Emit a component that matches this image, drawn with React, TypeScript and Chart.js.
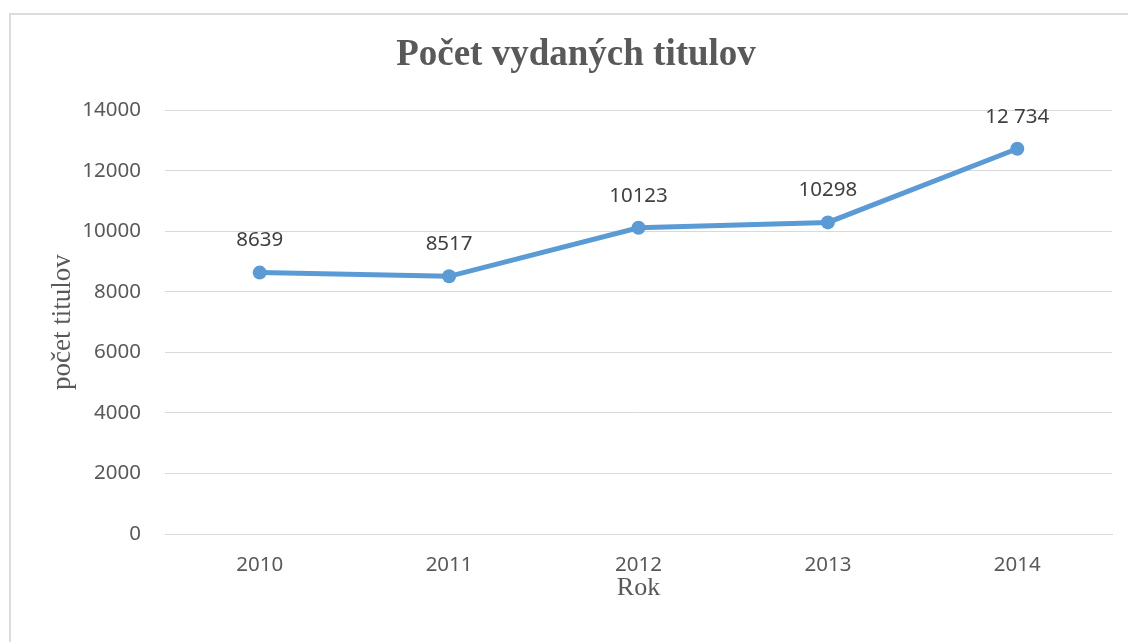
import React, { useEffect, useRef } from "react";
import { Chart, registerables } from "chart.js";

Chart.register(...registerables);

const categories = ["2010", "2011", "2012", "2013", "2014"];
const values = [8639, 8517, 10123, 10298, 12734];
const valueLabels = ["8639", "8517", "10123", "10298", "12 734"];
const yTicks = [0, 2000, 4000, 6000, 8000, 10000, 12000, 14000];

const titleText = "Počet vydaných titulov";
const yTitle = "počet titulov";
const xTitle = "Rok";

const dataLabelPlugin = {
  id: "dataLabels",
  afterDatasetsDraw(chart: any) {
    const ctx = chart.ctx;
    const meta = chart.getDatasetMeta(0);
    ctx.save();
    ctx.font = "20.5px 'Noto Sans'";
    ctx.fillStyle = "#404040";
    ctx.textAlign = "center";
    ctx.textBaseline = "middle";
    meta.data.forEach((pt: any, i: number) => {
      ctx.fillText(valueLabels[i], pt.x, pt.y - 32);
    });
    ctx.restore();
  },
};

export default function App() {
  const ref = useRef<HTMLCanvasElement | null>(null);

  useEffect(() => {
    document.body.style.margin = "0";
    if (!ref.current) return;
    const chart = new Chart(ref.current, {
      type: "line",
      data: {
        labels: categories,
        datasets: [
          {
            data: values,
            borderColor: "#5b9bd5",
            backgroundColor: "#5b9bd5",
            borderWidth: 5,
            pointRadius: 7,
            pointBackgroundColor: "#5b9bd5",
            pointBorderWidth: 0,
            tension: 0,
            fill: false,
          },
        ],
      },
      options: {
        animation: false,
        responsive: false,
        layout: { padding: { left: 40, right: 16, top: 0, bottom: 0 } },
        plugins: {
          legend: { display: false },
          tooltip: { enabled: false },
          title: {
            display: true,
            text: titleText,
            color: "#595959",
            font: { family: "'Liberation Serif'", size: 37, weight: "bold", lineHeight: 1.2 },
            padding: { top: 33, bottom: 33 },
          },
        },
        scales: {
          x: {
            offset: true,
            grid: { display: false, drawTicks: false },
            border: { display: true, color: "#d9d9d9", width: 1 },
            ticks: {
              color: "#595959",
              font: { family: "'Noto Sans'", size: 20.5 },
              padding: 19,
            },
            title: {
              display: true,
              text: xTitle,
              color: "#595959",
              font: { family: "'Liberation Serif'", size: 26, lineHeight: 1.2 },
              padding: { top: 0, bottom: 38 },
            },
            afterFit(scale: any) {
              scale.height = 108;
            },
          },
          y: {
            min: 0,
            max: 14000,
            afterBuildTicks(scale: any) {
              scale.ticks = yTicks.map((v) => ({ value: v }));
            },
            grid: { color: "#d9d9d9", lineWidth: 1, drawTicks: false },
            border: { display: false },
            ticks: {
              color: "#595959",
              font: { family: "'Noto Sans'", size: 20.5 },
              padding: 24,
              callback: (v: any) => String(v),
            },
            title: {
              display: true,
              text: yTitle,
              color: "#595959",
              font: { family: "'Liberation Serif'", size: 27, lineHeight: 1.2 },
              padding: { top: 7, bottom: 0 },
            },
            afterFit(scale: any) {
              scale.width = 125;
            },
          },
        },
      },
      plugins: [dataLabelPlugin],
    });
    return () => chart.destroy();
  }, []);

  return (
    <div style={{ position: "relative", width: 1128, height: 642, overflow: "hidden", background: "#fff" }}>
      <div
        style={{
          position: "absolute",
          left: 9,
          top: 13,
          width: 1200,
          height: 700,
          border: "2px solid #dcdcdc",
          boxSizing: "border-box",
        }}
      />
      <canvas ref={ref} width={1128} height={642} style={{ position: "absolute", left: 0, top: 0, display: "block" }} />
    </div>
  );
}
